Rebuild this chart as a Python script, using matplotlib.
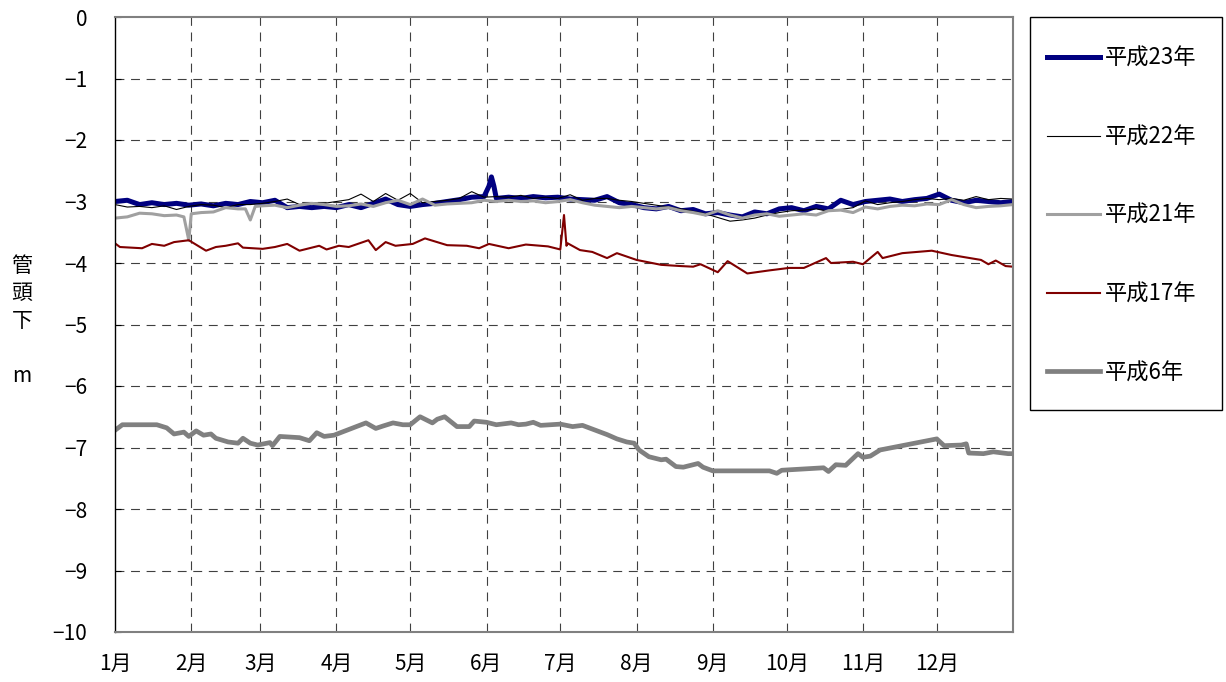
import matplotlib
matplotlib.use("Agg")
import matplotlib.pyplot as plt
from matplotlib.patches import Rectangle

plt.rcParams['font.family'] = ['Noto Sans CJK JP', 'DejaVu Sans']

# day of year (0 = 1月1日)
month_starts = [0, 31, 59, 90, 120, 151, 181, 212, 243, 273, 304, 334]
month_labels = ['1月', '2月', '3月', '4月', '5月', '6月', '7月', '8月', '9月', '10月', '11月', '12月']

# 平成23年
h23_day = [0, 5, 10, 15, 20, 25, 30, 35, 40, 45, 50, 55, 60, 65, 70, 75, 80, 85, 90, 95,
           100, 105, 110, 115, 120, 125, 130, 135, 140, 145, 150, 152, 153, 154, 155, 160,
           165, 170, 175, 180, 185, 190, 195, 200, 205, 210, 215, 220, 225, 230, 235, 240,
           245, 250, 255, 260, 265, 270, 275, 280, 285, 290, 295, 300, 305, 310, 315, 320,
           325, 330, 335, 340, 345, 350, 355, 360, 365]
h23_val = [-3.00, -2.98, -3.05, -3.02, -3.05, -3.03, -3.06, -3.04, -3.07, -3.03, -3.05,
           -3.00, -3.02, -2.98, -3.10, -3.08, -3.10, -3.08, -3.10, -3.05, -3.10, -3.03,
           -2.96, -3.05, -3.08, -3.05, -3.03, -3.00, -2.97, -2.93, -2.92, -2.75, -2.60,
           -2.75, -2.95, -2.93, -2.95, -2.92, -2.94, -2.93, -2.96, -2.97, -2.98, -2.92,
           -3.02, -3.05, -3.10, -3.12, -3.08, -3.15, -3.13, -3.20, -3.18, -3.22, -3.25,
           -3.17, -3.20, -3.12, -3.10, -3.15, -3.08, -3.12, -2.98, -3.05, -3.00, -2.98,
           -2.96, -3.00, -2.97, -2.95, -2.88, -2.98, -3.02, -2.98, -3.00, -3.02, -3.00]

# 平成22年
h22_day = [0, 5, 10, 15, 20, 25, 30, 35, 40, 45, 50, 55, 60, 65, 70, 75, 80, 85, 90, 95,
           100, 105, 110, 115, 120, 125, 130, 135, 140, 145, 150, 155, 160, 165, 170, 175,
           180, 185, 190, 195, 200, 205, 210, 215, 220, 225, 230, 235, 240, 245, 250, 255,
           260, 265, 270, 275, 280, 285, 290, 295, 300, 305, 310, 315, 320, 325, 330, 335,
           340, 345, 350, 355, 360, 365]
h22_val = [-3.05, -3.09, -3.08, -3.10, -3.07, -3.13, -3.08, -3.05, -3.06, -3.10, -3.05,
           -3.05, -3.03, -3.00, -2.96, -3.05, -3.02, -3.03, -3.00, -2.97, -2.88, -3.00,
           -2.87, -2.98, -2.87, -3.02, -3.00, -2.98, -2.95, -2.84, -2.93, -2.92, -2.93,
           -2.90, -2.95, -2.93, -2.95, -2.89, -2.98, -2.95, -2.95, -2.98, -3.00, -3.03,
           -3.06, -3.09, -3.12, -3.16, -3.20, -3.26, -3.32, -3.30, -3.27, -3.22, -3.18,
           -3.15, -3.14, -3.12, -3.16, -3.13, -3.10, -2.99, -3.05, -3.02, -3.00, -2.97,
           -2.95, -2.97, -2.95, -2.98, -2.92, -2.97, -2.95, -2.96]

# 平成21年
h21_day = [0, 5, 10, 15, 20, 25, 28, 30, 31, 35, 40, 45, 50, 53, 55, 57, 60, 65, 70, 75,
           80, 85, 90, 95, 100, 105, 110, 115, 120, 125, 130, 135, 140, 145, 150, 155, 160,
           165, 170, 175, 180, 185, 190, 195, 200, 205, 210, 215, 220, 225, 230, 235, 240,
           245, 250, 255, 260, 265, 270, 275, 280, 285, 290, 295, 300, 305, 310, 315, 320,
           325, 330, 335, 340, 345, 350, 355, 360, 365]
h21_val = [-3.27, -3.25, -3.19, -3.20, -3.23, -3.22, -3.25, -3.63, -3.20, -3.18, -3.17,
           -3.10, -3.12, -3.12, -3.30, -3.08, -3.07, -3.06, -3.10, -3.06, -3.03, -3.05,
           -3.08, -3.07, -3.04, -3.08, -3.02, -2.98, -3.05, -2.96, -3.06, -3.04, -3.03,
           -3.02, -2.98, -3.00, -2.98, -3.00, -2.99, -3.02, -3.00, -2.97, -3.02, -3.06,
           -3.08, -3.10, -3.08, -3.10, -3.12, -3.10, -3.15, -3.18, -3.22, -3.15, -3.22,
           -3.27, -3.22, -3.20, -3.24, -3.22, -3.20, -3.22, -3.15, -3.14, -3.18, -3.09,
           -3.12, -3.08, -3.06, -3.07, -3.04, -3.05, -2.97, -3.05, -3.10, -3.08, -3.07,
           -3.05]

# 平成17年
h17_day = [0, 2, 11, 15, 20, 24, 30, 37, 41, 45, 50, 52, 60, 65, 70, 75, 83, 86, 91, 95,
           103, 106, 110, 114, 121, 126, 135, 143, 148, 152, 160, 167, 176, 181, 182.5,
           183.5, 184, 189, 194, 200, 204, 212, 222, 230, 235, 238, 245, 249, 257, 266,
           274, 280, 289, 291, 300, 304, 310, 312, 320, 332, 340, 352, 355, 358, 362, 365]
h17_val = [-3.68, -3.74, -3.76, -3.69, -3.72, -3.66, -3.63, -3.80, -3.74, -3.72, -3.68,
           -3.75, -3.77, -3.74, -3.69, -3.80, -3.72, -3.78, -3.72, -3.74, -3.63, -3.79,
           -3.66, -3.72, -3.69, -3.60, -3.71, -3.72, -3.76, -3.69, -3.76, -3.70, -3.73,
           -3.78, -3.22, -3.72, -3.68, -3.79, -3.82, -3.92, -3.84, -3.95, -4.03, -4.05,
           -4.06, -4.02, -4.15, -3.97, -4.17, -4.12, -4.08, -4.08, -3.92, -4.00, -3.98,
           -4.02, -3.82, -3.92, -3.84, -3.80, -3.87, -3.95, -4.02, -3.96, -4.05, -4.06]

# 平成6年
h6_day = [0, 3, 17, 21, 24, 28, 30, 33, 36, 39, 41, 46, 50, 52, 55, 58, 63, 64, 67, 75,
          79, 82, 85, 89, 102, 106, 109, 113, 117, 120, 124, 129, 131, 134, 139, 144, 146,
          151, 155, 161, 164, 167, 170, 173, 181, 186, 190, 196, 200, 204, 208, 211, 213,
          217, 222, 224, 228, 231, 237, 239, 243, 266, 269, 271, 288, 290, 293, 297, 302,
          304, 307, 311, 334, 337, 344, 346, 347, 353, 357, 363, 365]
h6_val = [-6.72, -6.63, -6.63, -6.68, -6.78, -6.75, -6.82, -6.73, -6.80, -6.78, -6.85,
          -6.91, -6.93, -6.85, -6.93, -6.96, -6.92, -6.97, -6.82, -6.84, -6.89, -6.76,
          -6.82, -6.80, -6.60, -6.69, -6.65, -6.60, -6.63, -6.63, -6.50, -6.60, -6.54,
          -6.50, -6.66, -6.66, -6.57, -6.59, -6.63, -6.60, -6.63, -6.62, -6.59, -6.64,
          -6.62, -6.66, -6.64, -6.73, -6.79, -6.86, -6.91, -6.93, -7.04, -7.15, -7.20,
          -7.19, -7.31, -7.32, -7.26, -7.32, -7.38, -7.38, -7.42, -7.37, -7.33, -7.39,
          -7.28, -7.29, -7.10, -7.16, -7.14, -7.04, -6.86, -6.97, -6.96, -6.94, -7.09,
          -7.10, -7.07, -7.10, -7.10]

W, H = 1226, 682
fig = plt.figure(figsize=(W / 100, H / 100), dpi=100)
ax = fig.add_axes([115 / W, 1 - 632 / H, 898 / W, 615 / H])

ax.plot(h23_day, h23_val, color='#000080', lw=3.6, label='平成23年', solid_joinstyle='round')
ax.plot(h22_day, h22_val, color='black', lw=0.8, label='平成22年')
ax.plot(h21_day, h21_val, color='#a0a0a0', lw=2.2, label='平成21年')
ax.plot(h17_day, h17_val, color='#800000', lw=1.5, label='平成17年')
ax.plot(h6_day, h6_val, color='#808080', lw=3.4, label='平成6年')

ax.set_xlim(0, 365)
ax.set_ylim(-10, 0)
ax.set_yticks(range(-10, 1))
ax.set_xticks(month_starts)
ax.set_xticklabels(month_labels)

for d in month_starts[1:]:
    ax.axvline(d, color='#404040', lw=0.8, ls=(0, (8, 6)), zorder=0)
for v in range(-9, 0):
    ax.axhline(v, color='#404040', lw=0.8, ls=(0, (8, 6)), zorder=0)

ax.tick_params(axis='x', length=0, pad=15, labelsize=15)
ax.tick_params(axis='y', direction='in', length=4, pad=20, labelsize=15)

ax.spines['left'].set_color('black')
ax.spines['left'].set_linewidth(1.0)
for s in ['top', 'right', 'bottom']:
    ax.spines[s].set_color('#808080')
    ax.spines[s].set_linewidth(1.5)

fig.text(22 / W, 1 - 321 / H, '管\n頭\n下\n\nm', ha='center', va='center',
         fontsize=15, linespacing=1.33)

# legend box drawn separately so the entries can be placed freely inside
fig.patches.append(Rectangle((1030 / W, 1 - 410 / H), 192 / W, 393 / H,
                             transform=fig.transFigure, fill=False,
                             edgecolor='black', linewidth=1.0))
fig.legend(loc='upper left', bbox_to_anchor=(1047 / W, 1 - 47 / H),
           fontsize=16, frameon=False, handlelength=2.4, handletextpad=0.2,
           labelspacing=2.5, borderpad=0, borderaxespad=0)

fig.savefig('out.png', dpi=100)
